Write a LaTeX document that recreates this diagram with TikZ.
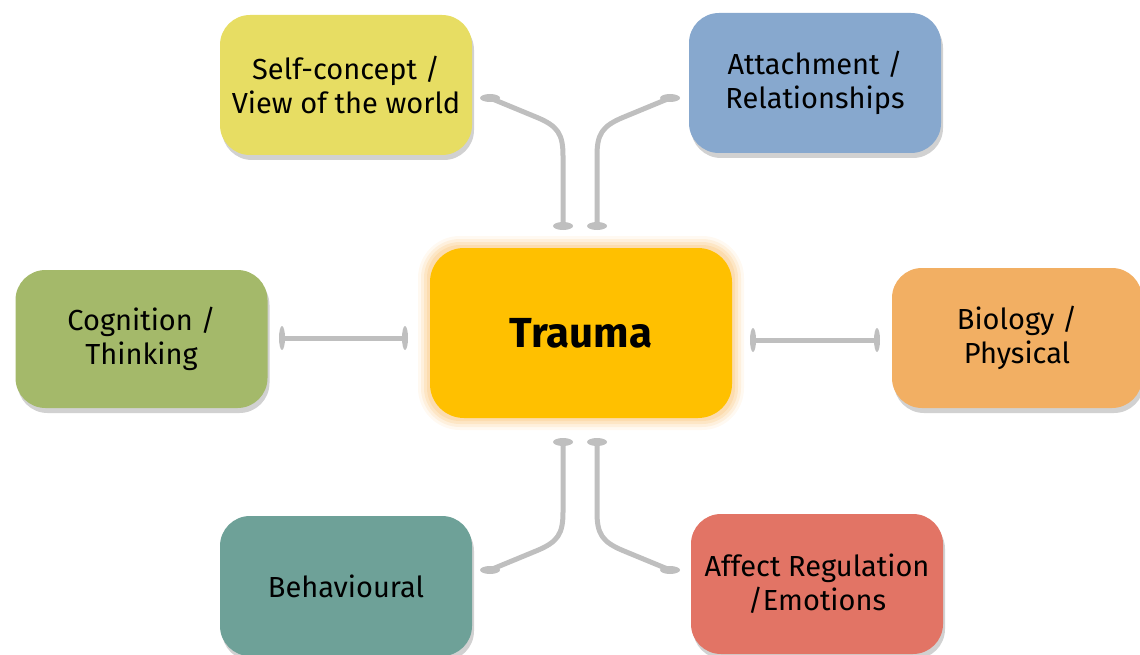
\documentclass[tikz,border=0pt]{standalone}
\usepackage{fontspec}
\setmainfont{Fira Sans}
\usetikzlibrary{shadows}
\definecolor{selfc}{RGB}{231,221,99}
\definecolor{attc}{RGB}{135,168,206}
\definecolor{cogc}{RGB}{164,185,106}
\definecolor{traumac}{RGB}{255,192,0}
\definecolor{glowc}{RGB}{252,214,160}
\definecolor{bioc}{RGB}{242,175,99}
\definecolor{behc}{RGB}{110,161,152}
\definecolor{affc}{RGB}{226,116,101}
\definecolor{linkc}{RGB}{191,191,191}
\tikzset{
  topic/.style={rectangle, rounded corners=30pt, minimum width=252pt, minimum height=140pt,
    align=center, font=\fontsize{29}{34}\selectfont, text=black,
    drop shadow={shadow xshift=2pt, shadow yshift=-5pt, opacity=0.3, fill=black!60}},
  link/.style={draw=linkc, line width=5pt, line join=round},
  knob/.style={fill=linkc}
}
\begin{document}
\begin{tikzpicture}[x=1pt,y=-1pt]
\useasboundingbox (0,0) rectangle (1140,655);
% soft glow behind the central box
\foreach \g/\o in {12/0.15,9/0.25,6/0.4,3/0.6}{
  \fill[glowc, opacity=\o, rounded corners=30pt+\g pt] (430-\g,248-\g) rectangle (732+\g,418+\g);
}
\node[rectangle, rounded corners=34pt, fill=traumac, minimum width=302pt, minimum height=170pt,
  font=\fontsize{42}{48}\selectfont\bfseries] (trauma) at (581,333) {Trauma};

\node[topic, fill=selfc] (self) at (346,85) {Self-concept /\\View of the world};
\node[topic, fill=attc] (att) at (815,83) {Attachment /\\Relationships};
\node[topic, fill=cogc, minimum height=138pt] (cog) at (141.5,339) {Cognition /\\Thinking};
\node[topic, fill=bioc, minimum width=250pt] (bio) at (1017,338) {Biology /\\Physical};
\node[topic, fill=behc] (beh) at (346,586) {Behavioural};
\node[topic, fill=affc] (aff) at (817,584) {Affect Regulation\\/Emotions};

% connector end points
\coordinate (tlA) at (490,98);   \coordinate (tlB) at (563,226);
\coordinate (trA) at (670,98);   \coordinate (trB) at (597,226);
\coordinate (blA) at (490,570);  \coordinate (blB) at (563,442);
\coordinate (brA) at (670,570);  \coordinate (brB) at (597,442);
\coordinate (lA) at (282,338);   \coordinate (lB) at (405,338);
\coordinate (rA) at (753,340);   \coordinate (rB) at (877,340);

\draw[link] (tlA) -- (536,117) .. controls (558,126) and (563,134) .. (563,156) -- (tlB);
\draw[link] (trA) -- (624,117) .. controls (602,126) and (597,134) .. (597,156) -- (trB);
\draw[link] (blA) -- (536,551) .. controls (558,542) and (563,534) .. (563,512) -- (blB);
\draw[link] (brA) -- (624,551) .. controls (602,542) and (597,534) .. (597,512) -- (brB);
\draw[link] (lA) -- (lB);
\draw[link] (rA) -- (rB);

\foreach \p in {tlA,tlB,trA,trB,blA,blB,brA,brB}{
  \fill[knob] (\p) ellipse (10 and 4);
}
\foreach \p in {lA,lB,rA,rB}{
  \fill[knob] (\p) ellipse (3 and 12);
}
\end{tikzpicture}
\end{document}
